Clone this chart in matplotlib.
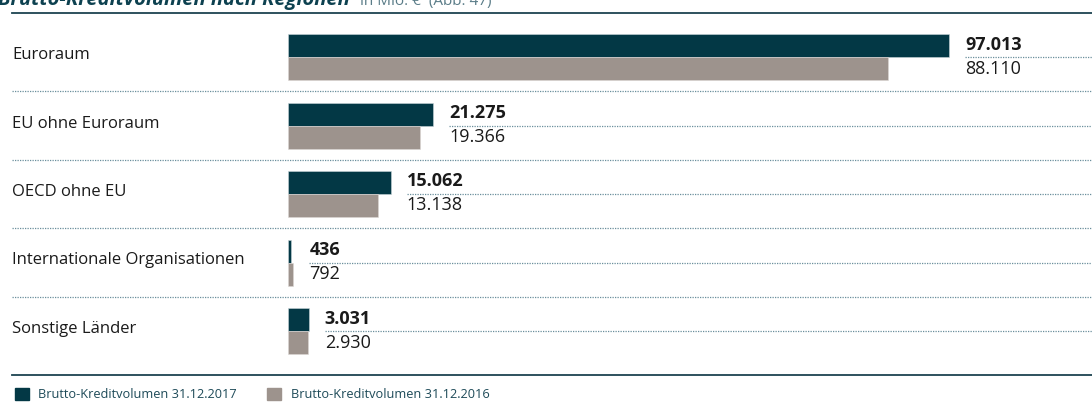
import matplotlib
matplotlib.use('Agg')
import numpy as np
import matplotlib.pyplot as plt

plt.rcParams['font.family'] = ['Open Sans', 'DejaVu Sans']

regions = ['Euroraum', 'EU ohne Euroraum', 'OECD ohne EU',
           'Internationale Organisationen', 'Sonstige Länder']
vol_2017 = [97013, 21275, 15062, 436, 3031]
vol_2016 = [88110, 19366, 13138, 792, 2930]
labels_2017 = ['97.013', '21.275', '15.062', '436', '3.031']
labels_2016 = ['88.110', '19.366', '13.138', '792', '2.930']
legend_labels = ['Brutto-Kreditvolumen 31.12.2017', 'Brutto-Kreditvolumen 31.12.2016']

dark = '#033845'
grey = '#9d938d'
dotc = '#6a8f9c'
textc = '#1a1a1a'

W, H = 1092, 405
fig = plt.figure(figsize=(W / 100, H / 100), dpi=100)
ax = fig.add_axes([0, 0, 1, 1])

# x scale: value 0 at 288 px, 97013 at 949 px
px = 97013 / (949 - 288)
ax.set_xlim(-288 * px, (W - 288) * px)
# y scale: row i centred at 57 + 68.5*i px
pitch = 68.5
ax.set_ylim((H - 57) / pitch, -57 / pitch)
ax.axis('off')

y = np.arange(len(regions))
h = 23 / pitch
ax.barh(y - h / 2, vol_2017, height=h, color=dark, edgecolor='#c9d5d9', linewidth=0.4)
ax.barh(y + h / 2, vol_2016, height=h, color=grey, edgecolor='#dcd8d5', linewidth=0.4)

x_left = -276 * px
x_right = (W - 1) * px

# top / bottom solid rules
ax.plot([x_left, x_right], [-44 / pitch] * 2, color='#1c4350', lw=1.3)
ax.plot([x_left, x_right], [(375 - 57) / pitch] * 2, color='#1c4350', lw=1.3)

for i in range(len(regions)):
    ax.text(x_left, i - 2 / pitch, regions[i], fontsize=12, color=textc,
            va='center', ha='left')
    if i < len(regions) - 1:
        ax.plot([x_left, x_right], [i + 0.5] * 2, color=dotc, lw=0.9,
                ls=(0, (1, 1)))
    xv = max(vol_2017[i], vol_2016[i]) + 16 * px
    ax.text(xv, i - h / 2 - 1 / pitch, labels_2017[i], fontsize=13,
            fontweight='bold', color=textc, va='center', ha='left')
    ax.plot([xv, x_right], [i] * 2, color=dotc, lw=0.9, ls=(0, (1, 1)))
    ax.text(xv, i + h / 2, labels_2016[i], fontsize=13, color=textc,
            va='center', ha='left')

# title (cut at top edge like the reference)
fig.text(-0.002, 1 - 5 / H, 'Brutto-Kreditvolumen nach Regionen', fontsize=14.5,
         fontweight='bold', fontstyle='italic', color='#0d4150', va='baseline')
fig.text(360 / W, 1 - 5 / H, 'in Mio. €  (Abb. 47)', fontsize=11,
         color='#5a7c88', va='baseline')

handles = [plt.Rectangle((0, 0), 1, 1, color=dark),
           plt.Rectangle((0, 0), 1, 1, color=grey)]
fig.legend(handles, legend_labels, loc='lower left',
           bbox_to_anchor=(3 / W, -8 / H), ncol=2, frameon=False,
           handlelength=1.1, handleheight=1.1, handletextpad=0.75,
           columnspacing=2.4, fontsize=9.2, labelcolor='#1d4a58')

fig.savefig('out.png', dpi=100)
